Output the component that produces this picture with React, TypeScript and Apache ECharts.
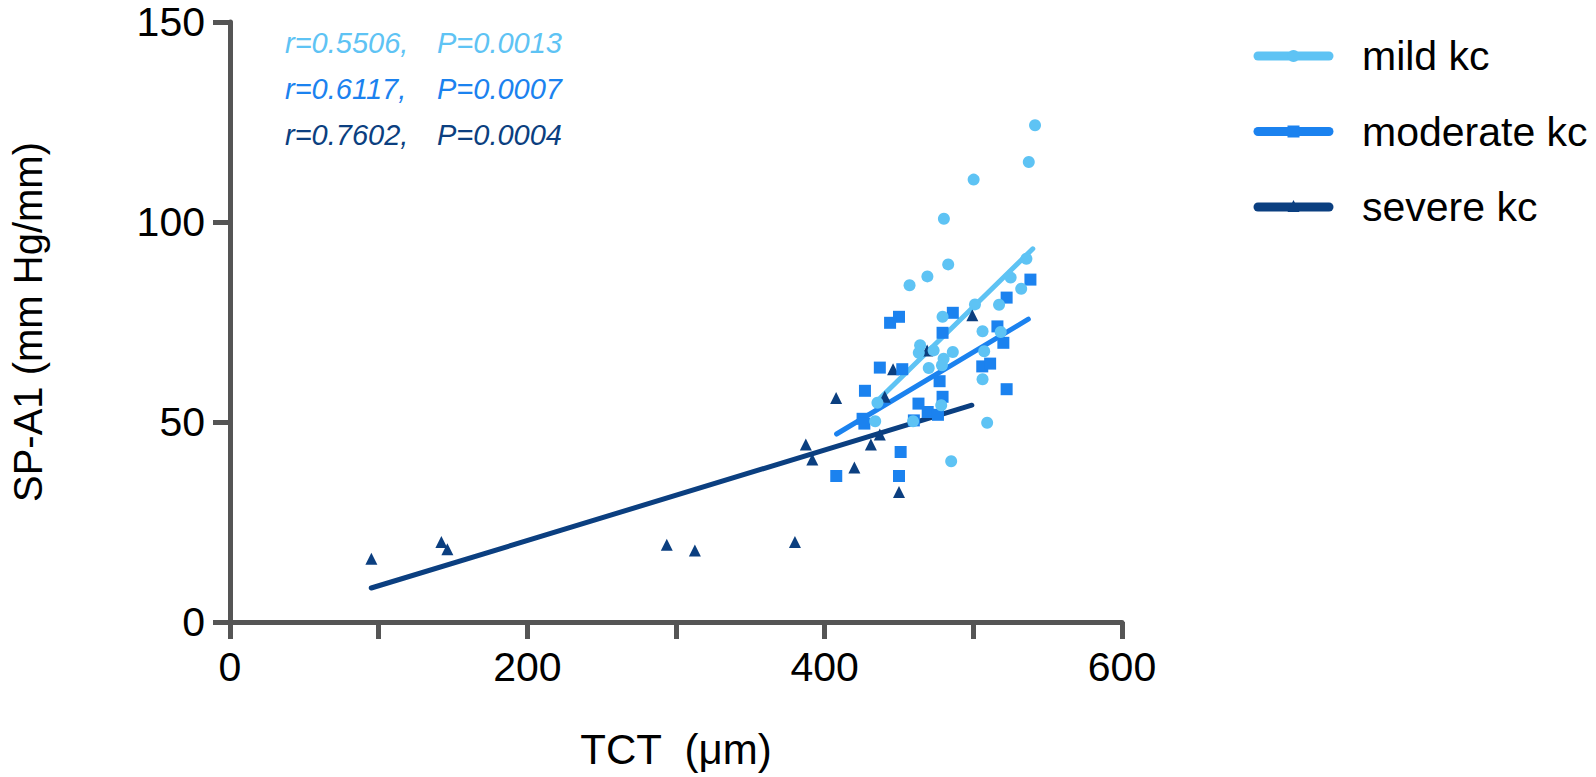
import React, { useEffect, useRef } from 'react';
import * as echarts from 'echarts';

const seriesNames = ['mild kc', 'moderate kc', 'severe kc'];
const seriesColors = ['#5EC3F4', '#1B82EF', '#0B3F80'];
const seriesSymbols = ['circle', 'rect', 'triangle'];

const mildPoints = [
  [541.5, 124.2], [537.3, 115.0], [500.2, 110.6], [480.2, 100.8], [483.1, 89.4],
  [469.1, 86.4], [457.1, 84.2], [535.7, 90.8], [525.1, 86.1], [532.2, 83.3],
  [517.3, 79.3], [501.1, 79.4], [479.3, 76.3], [506.2, 72.7], [518.4, 72.5],
  [464.2, 69.2], [463.3, 67.3], [473.3, 67.9], [486.2, 67.5], [507.3, 67.7],
  [480.0, 65.8], [478.9, 64.2], [470.0, 63.5], [506.2, 60.7], [435.5, 54.8],
  [478.4, 54.2], [434.0, 50.2], [459.5, 50.2], [509.3, 49.8], [485.1, 40.2],
];

const moderatePoints = [
  [538.4, 85.6], [522.4, 81.1], [486.2, 77.3], [450.0, 76.3], [444.0, 74.8],
  [479.3, 72.3], [516.2, 73.9], [520.2, 69.8], [437.1, 63.6], [452.2, 63.2],
  [506.0, 63.9], [511.3, 64.6], [477.3, 60.2], [427.1, 57.8], [522.4, 58.2],
  [479.3, 56.3], [463.1, 54.6], [469.3, 52.5], [476.2, 51.8], [425.5, 50.8],
  [426.7, 49.6], [460.0, 50.4], [451.1, 42.5], [407.8, 36.5], [450.0, 36.5],
];

const severePoints = [
  [95.1, 15.8], [142.2, 20.0], [146.2, 18.2], [293.8, 19.3], [312.7, 17.9],
  [380.0, 20.0], [387.3, 44.4], [391.7, 40.6], [407.7, 56.0], [420.0, 38.6],
  [431.1, 44.4], [437.1, 46.9], [440.4, 56.3], [446.0, 63.2], [450.0, 32.5],
  [468.9, 67.9], [499.3, 76.7],
];

const mildFit = [[436, 55.5], [540, 93.3]];
const moderateFit = [[408, 47.0], [537, 75.7]];
const severeFit = [[95, 8.5], [499, 54.2]];

const rValues = ['0.5506', '0.6117', '0.7602'];
const pValues = ['0.0013', '0.0007', '0.0004'];

const xTicks = { min: 0, max: 600, interval: 100, labelEvery: 200 };
const yTicks = { min: 0, max: 150, interval: 50 };

const FONT = "'Liberation Sans', Arial, Helvetica, sans-serif";
const AXIS_COLOR = '#555555';

export default function App() {
  const ref = useRef<HTMLDivElement>(null);

  useEffect(() => {
    if (!ref.current) return;
    const chart = echarts.init(ref.current, null, { renderer: 'svg' });

    const pointSets = [mildPoints, moderatePoints, severePoints];
    const fitSets = [mildFit, moderateFit, severeFit];

    const lineSeries = fitSets.map((fit, i) => ({
      name: seriesNames[i] + ' fit',
      type: 'line',
      data: fit,
      symbol: 'none',
      silent: true,
      z: 2,
      lineStyle: { color: seriesColors[i], width: 5, cap: 'round' },
    }));

    const scatterSeries = pointSets.map((pts, i) => ({
      name: seriesNames[i],
      type: 'scatter',
      data: pts,
      symbol: seriesSymbols[i],
      symbolSize: 12,
      z: 5 - i,
      itemStyle: { color: seriesColors[i], opacity: 1 },
    }));

    const legendX1 = 1258;
    const legendX2 = 1329;
    const legendTextX = 1362;
    const legendGraphics: any[] = [];
    seriesNames.forEach((name, i) => {
      const y = 56 + i * 75.5;
      const mx = (legendX1 + legendX2) / 2;
      legendGraphics.push({
        type: 'line',
        shape: { x1: legendX1, y1: y, x2: legendX2, y2: y },
        style: { stroke: seriesColors[i], lineWidth: 9, lineCap: 'round' },
      });
      if (seriesSymbols[i] === 'circle') {
        legendGraphics.push({ type: 'circle', shape: { cx: mx, cy: y, r: 6 }, style: { fill: seriesColors[i] } });
      } else if (seriesSymbols[i] === 'rect') {
        legendGraphics.push({ type: 'rect', shape: { x: mx - 6, y: y - 6, width: 12, height: 12 }, style: { fill: seriesColors[i] } });
      } else {
        legendGraphics.push({
          type: 'polygon',
          shape: { points: [[mx, y - 7], [mx + 6, y + 5], [mx - 6, y + 5]] },
          style: { fill: seriesColors[i] },
        });
      }
      legendGraphics.push({
        type: 'text',
        x: legendTextX,
        y: y,
        style: { text: name, fill: '#000', font: `41px ${FONT}`, textVerticalAlign: 'middle', textAlign: 'left' },
      });
    });

    const statGraphics: any[] = [];
    rValues.forEach((r, i) => {
      const y = 43 + i * 46;
      statGraphics.push({
        type: 'text', x: 285, y,
        style: { text: `r=${r},`, fill: seriesColors[i], font: `italic 29px ${FONT}`, textVerticalAlign: 'middle' },
      });
      statGraphics.push({
        type: 'text', x: 437, y,
        style: { text: `P=${pValues[i]}`, fill: seriesColors[i], font: `italic 29px ${FONT}`, textVerticalAlign: 'middle' },
      });
    });

    const option: any = {
      animation: false,
      backgroundColor: '#ffffff',
      grid: { left: 222, top: 22, width: 900, height: 600, containLabel: false },
      xAxis: {
        type: 'value',
        min: xTicks.min,
        max: xTicks.max,
        interval: xTicks.interval,
        name: 'TCT  (μm)',
        nameLocation: 'middle',
        nameGap: 106,
        nameTextStyle: { fontSize: 42, color: '#000', fontFamily: FONT },
        splitLine: { show: false },
        axisLine: { show: true, lineStyle: { color: AXIS_COLOR, width: 5 } },
        axisTick: { show: true, length: 17, lineStyle: { color: AXIS_COLOR, width: 5 } },
        axisLabel: {
          fontSize: 41,
          color: '#000',
          fontFamily: FONT,
          margin: 24,
          formatter: (v: number) => (v % xTicks.labelEvery === 0 ? String(v) : ''),
        },
      },
      yAxis: {
        type: 'value',
        min: yTicks.min,
        max: yTicks.max,
        interval: yTicks.interval,
        name: 'SP-A1 (mm Hg/mm)',
        nameLocation: 'middle',
        nameGap: 182,
        nameRotate: 90,
        nameTextStyle: { fontSize: 40, color: '#000', fontFamily: FONT },
        splitLine: { show: false },
        axisLine: { show: true, lineStyle: { color: AXIS_COLOR, width: 5 } },
        axisTick: { show: true, length: 17, lineStyle: { color: AXIS_COLOR, width: 5 } },
        axisLabel: { fontSize: 41, color: '#000', fontFamily: FONT, margin: 25 },
      },
      graphic: [...statGraphics, ...legendGraphics],
      series: [...lineSeries, ...scatterSeries],
    };

    chart.setOption(option);
    return () => chart.dispose();
  }, []);

  return (
    <div
      ref={ref}
      style={{ position: 'fixed', left: 0, top: 0, width: 1596, height: 777, background: '#fff' }}
    />
  );
}
